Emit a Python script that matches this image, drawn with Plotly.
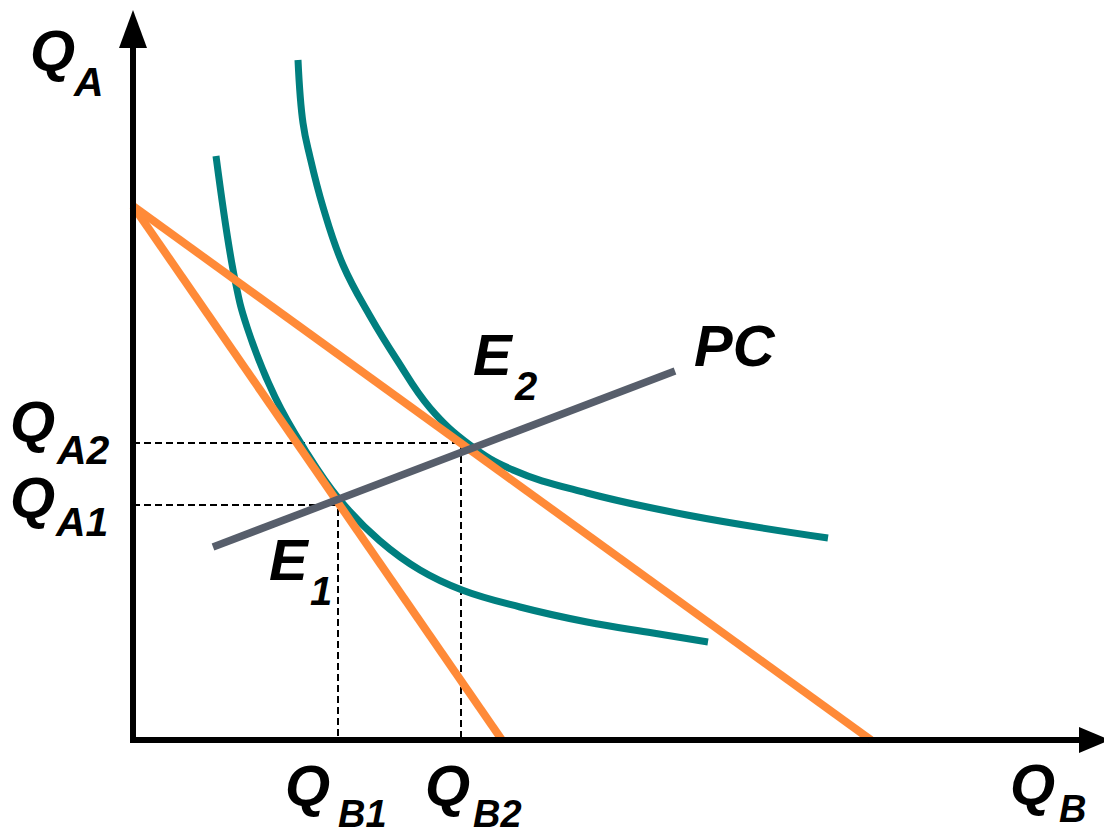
import plotly.graph_objects as go

# ---- data (arbitrary economic units) ----
budget1_qb = [0.0, 3.69]
budget1_qa = [5.34, 0.0]
budget2_qb = [0.0, 7.38]
budget2_qa = [5.34, 0.0]

ic1_qb = [0.83, 1.02, 1.14, 1.42, 1.72, 2.06, 2.47, 2.87, 3.29, 3.87, 4.54, 5.20, 5.75]
ic1_qa = [5.84, 4.60, 4.13, 3.43, 2.90, 2.41, 1.99, 1.70, 1.50, 1.33, 1.18, 1.07, 0.98]

ic2_qb = [1.65, 1.70, 1.77, 1.90, 2.10, 2.37, 2.64, 2.97, 3.37, 3.80, 4.54, 5.54, 6.95]
ic2_qa = [6.80, 6.17, 5.83, 5.33, 4.75, 4.24, 3.80, 3.32, 2.95, 2.70, 2.47, 2.25, 2.02]

pc_qb = [0.80, 5.42]
pc_qa = [1.93, 3.69]

e1_qb, e1_qa = 2.05, 2.35
e2_qb, e2_qa = 3.28, 2.97

axis_x_end = 9.47
axis_y_end = 6.92
arrow_x_tip = 9.77
arrow_y_tip = 7.30

TEAL = "#007F7F"
ORANGE = "#FF8A38"
GRAY = "#575E6B"
FONT = "Liberation Sans, Arial, sans-serif"

fig = go.Figure()

# dashed guides
for xs, ys in [([0, e1_qb, e1_qb], [e1_qa, e1_qa, 0]),
               ([0, e2_qb, e2_qb], [e2_qa, e2_qa, 0])]:
    fig.add_trace(go.Scatter(x=xs, y=ys, mode="lines",
                             line=dict(color="black", width=2, dash="7px,4px"),
                             hoverinfo="skip"))

# indifference curves
for xs, ys in [(ic1_qb, ic1_qa), (ic2_qb, ic2_qa)]:
    fig.add_trace(go.Scatter(x=xs, y=ys, mode="lines",
                             line=dict(color=TEAL, width=7, shape="spline", smoothing=1.2)))

# budget lines
for xs, ys in [(budget1_qb, budget1_qa), (budget2_qb, budget2_qa)]:
    fig.add_trace(go.Scatter(x=xs, y=ys, mode="lines",
                             line=dict(color=ORANGE, width=8)))

# price consumption curve
fig.add_trace(go.Scatter(x=pc_qb, y=pc_qa, mode="lines",
                         line=dict(color=GRAY, width=7.5)))

# axes
fig.add_trace(go.Scatter(x=[0, 0, axis_x_end], y=[axis_y_end, 0, 0], mode="lines",
                         line=dict(color="black", width=6)))

shapes = [
    dict(type="path", xref="x", yref="y",
         path=f"M 0 {arrow_y_tip} L -0.14 {axis_y_end} L 0.14 {axis_y_end} Z",
         fillcolor="black", line=dict(width=0)),
    dict(type="path", xref="x", yref="y",
         path=f"M {arrow_x_tip} 0 L {axis_x_end - 0.01} 0.13 L {axis_x_end - 0.01} -0.13 Z",
         fillcolor="black", line=dict(width=0)),
]

MAIN = 58

def txt(t, x, y, size):
    return dict(text=t, x=x, y=y, xref="x", yref="y", showarrow=False,
                xanchor="center", yanchor="middle",
                font=dict(family=FONT, size=size, color="black",
                          weight="bold", style="italic"))

annotations = [
    # Q_A
    txt("Q", -0.81, 6.90, MAIN), txt("A", -0.45, 6.58, 41),
    # Q_A2
    txt("Q", -1.01, 3.185, MAIN), txt("A2", -0.505, 2.90, 41),
    # Q_A1
    txt("Q", -1.01, 2.425, MAIN), txt("A1", -0.52, 2.18, 41),
    # Q_B1
    txt("Q", 1.74, -0.45, MAIN), txt("B1", 2.29, -0.735, 38),
    # Q_B2
    txt("Q", 3.14, -0.45, MAIN), txt("B2", 3.645, -0.735, 38),
    # Q_B
    txt("Q", 8.99, -0.44, MAIN), txt("B", 9.39, -0.69, 38),
    # E_1
    txt("E", 1.56, 1.805, MAIN), txt("1", 1.88, 1.49, 40),
    # E_2
    txt("E", 3.60, 3.855, MAIN), txt("2", 3.92, 3.54, 40),
    # PC
    txt("PC", 6.02, 3.95, MAIN),
]

fig.update_layout(
    width=1104, height=826,
    margin=dict(l=0, r=0, t=0, b=0),
    paper_bgcolor="white", plot_bgcolor="white",
    showlegend=False,
    xaxis=dict(range=[-1.25, 9.79], visible=False, fixedrange=True),
    yaxis=dict(range=[-0.94, 7.32], visible=False, fixedrange=True),
    shapes=shapes,
    annotations=annotations,
)

fig.write_html("out.html")
